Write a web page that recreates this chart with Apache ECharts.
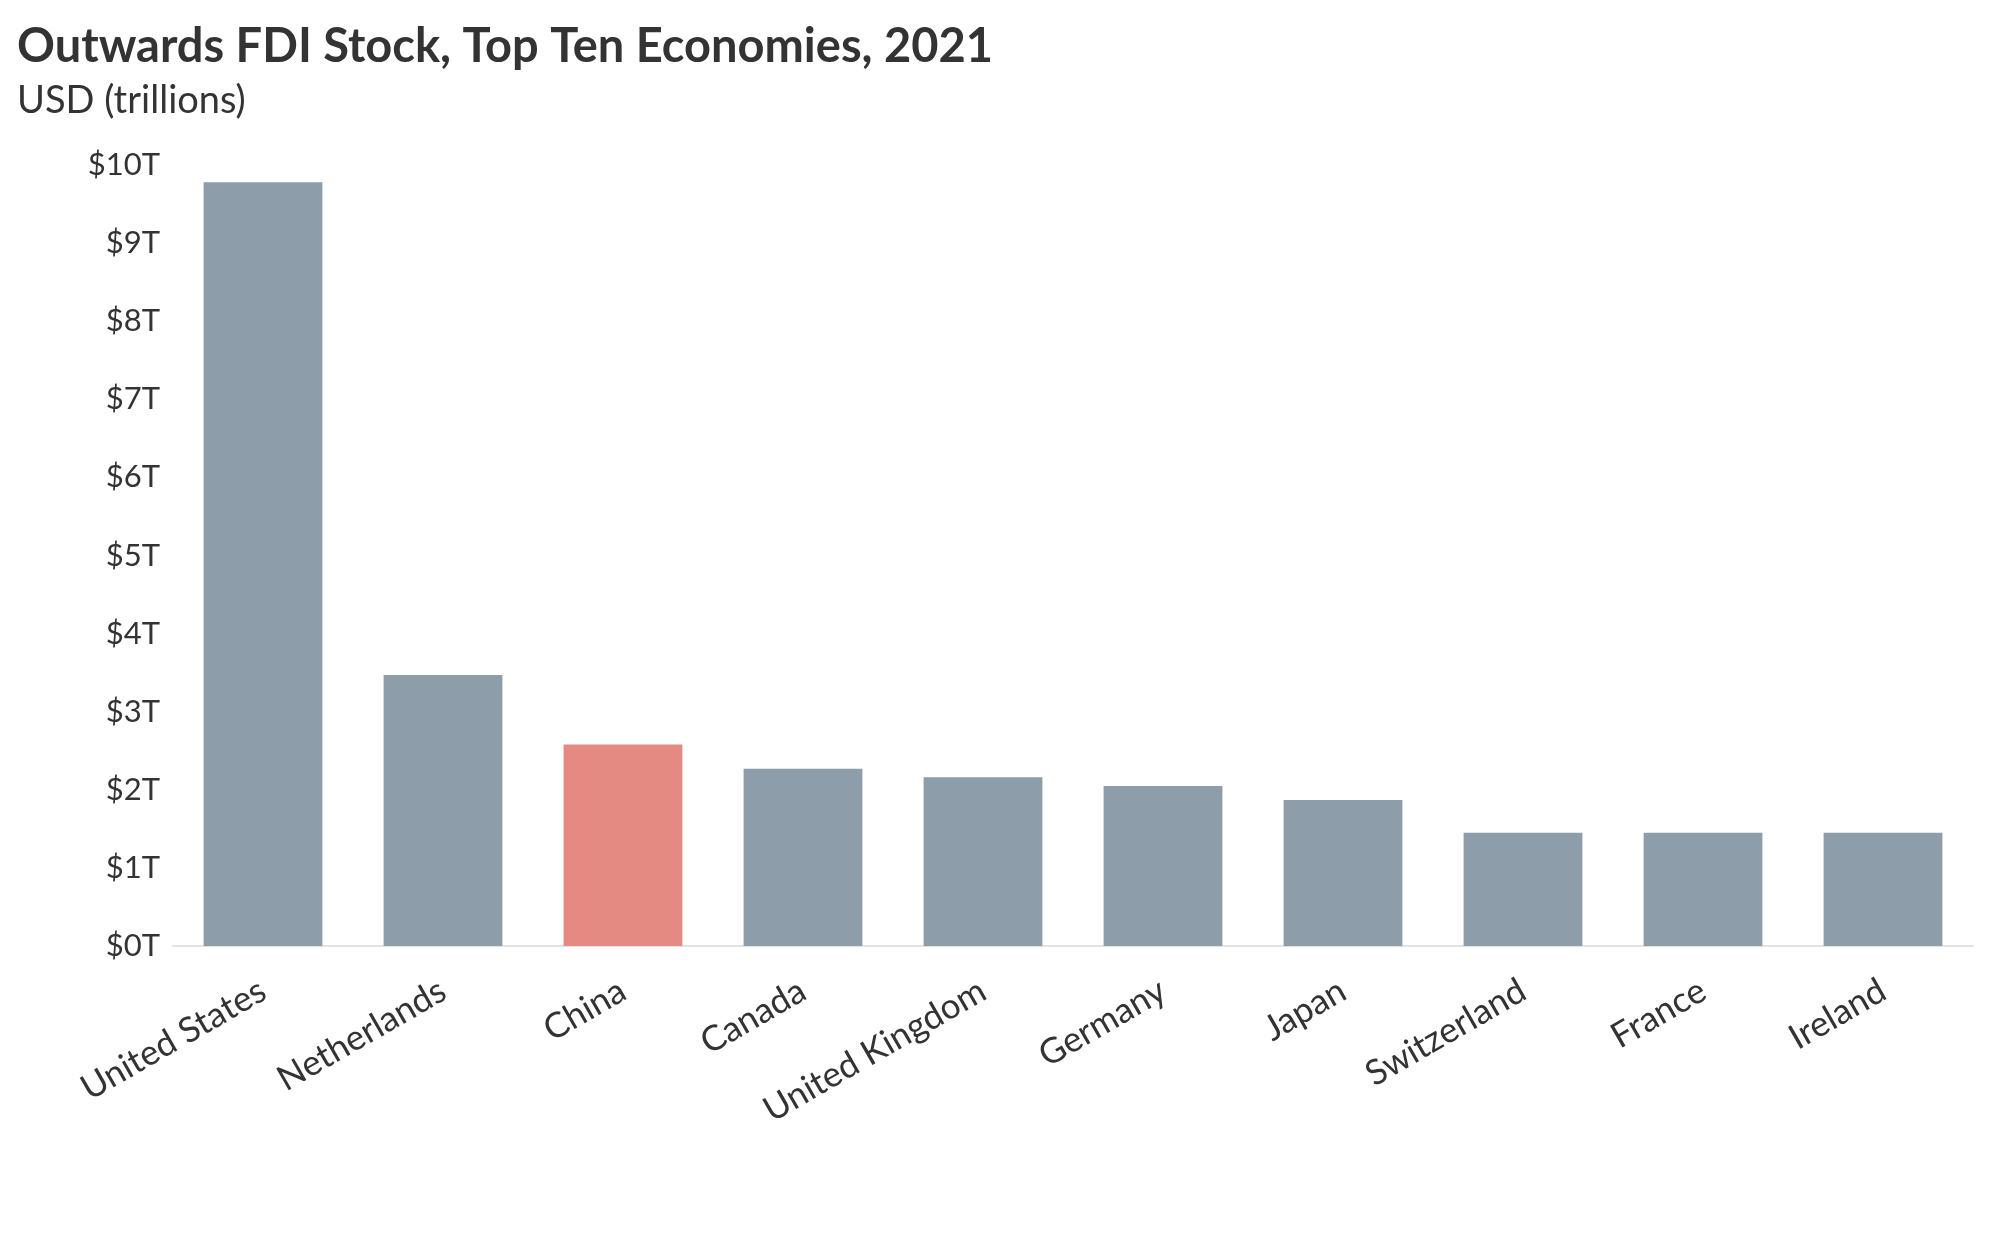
<!DOCTYPE html>
<html>
<head>
<meta charset="utf-8">
<script src="https://cdn.jsdelivr.net/npm/echarts@6/dist/echarts.min.js"></script>
<style>
html,body{margin:0;padding:0;background:#fff;}
#chart{width:2014px;height:1237px;}
</style>
</head>
<body>
<div id="chart"></div>
<script>
const categories = ["United States","Netherlands","China","Canada","United Kingdom","Germany","Japan","Switzerland","France","Ireland"];
const values = [9.78, 3.47, 2.58, 2.27, 2.16, 2.05, 1.87, 1.45, 1.45, 1.45];
const highlight = "China";
const yTicks = [0,1,2,3,4,5,6,7,8,9,10];

const FONT = "Lato";
const chart = echarts.init(document.getElementById('chart'));
chart.setOption({
  backgroundColor: '#ffffff',
  animation: false,
  title: {
    text: 'Outwards FDI Stock, Top Ten Economies, 2021',
    subtext: 'USD (trillions)',
    left: 12,
    top: 18,
    itemGap: 12,
    textStyle: {fontFamily: FONT, fontWeight: 'bold', fontSize: 47, color: '#333333'},
    subtextStyle: {fontFamily: FONT, fontSize: 38, color: '#333333'}
  },
  grid: {left: 173, right: 41, top: 165, bottom: 1237 - 946},
  xAxis: {
    type: 'category',
    data: categories,
    axisLine: {lineStyle: {color: '#e3e3e3', width: 2}},
    axisTick: {show: false},
    axisLabel: {
      interval: 0, rotate: 30, margin: 42,
      fontFamily: FONT, fontSize: 35, color: '#333333'
    }
  },
  yAxis: {
    type: 'value',
    min: yTicks[0], max: yTicks[yTicks.length - 1], interval: 1,
    splitLine: {show: false},
    axisLine: {show: false},
    axisTick: {show: false},
    axisLabel: {
      margin: 13, fontFamily: FONT, fontSize: 31, color: '#333333',
      formatter: v => '$' + v + 'T'
    }
  },
  series: [{
    type: 'bar',
    barCategoryGap: '34%',
    data: values.map((v, i) => ({
      value: v,
      itemStyle: {color: categories[i] === highlight ? '#e48a83' : '#8d9da9'}
    }))
  }]
});
</script>
</body>
</html>
